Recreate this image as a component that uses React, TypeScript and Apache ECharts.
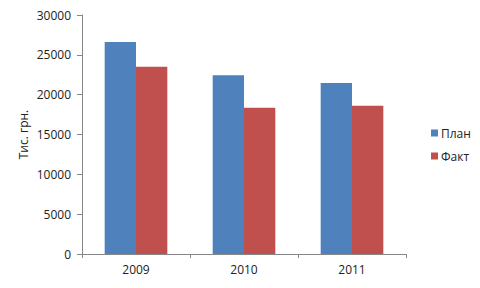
import React, { useEffect, useRef } from "react";
import * as echarts from "echarts";

const categories = ["2009", "2010", "2011"];
const planValues = [26600, 22450, 21450];
const factValues = [23500, 18350, 18600];
const seriesNames = ["План", "Факт"];
const yAxisName = "Тис. грн.";

export default function App() {
  const ref = useRef<HTMLDivElement>(null);
  useEffect(() => {
    const chart = echarts.init(ref.current!, null, { renderer: "svg" });
    const font = "'Open Sans', 'Liberation Sans', sans-serif";
    chart.setOption({
      animation: false,
      backgroundColor: "#ffffff",
      textStyle: { fontFamily: font },
      grid: { left: 82, right: 74, top: 15, bottom: 34, containLabel: false },
      legend: {
        orient: "vertical",
        left: 426,
        top: 122,
        itemWidth: 7,
        itemHeight: 7,
        itemGap: 11,
        icon: "rect",
        textStyle: { fontSize: 12, color: "#222", fontFamily: font, padding: [0, 0, 0, -2] },
        data: seriesNames,
      },
      xAxis: {
        type: "category",
        data: categories,
        axisLine: { lineStyle: { color: "#868686" } },
        axisTick: { show: true, alignWithLabel: false, length: 4, lineStyle: { color: "#868686" } },
        axisLabel: { color: "#222", fontSize: 12, margin: 9, fontFamily: font },
      },
      yAxis: {
        type: "value",
        min: 0,
        max: 30000,
        interval: 5000,
        name: yAxisName,
        nameLocation: "middle",
        nameGap: 53,
        nameMoveOverlap: false,
        nameTextStyle: { color: "#222", fontSize: 12, fontFamily: font },
        axisLine: { show: true, lineStyle: { color: "#868686" } },
        axisTick: { show: true, length: 5, lineStyle: { color: "#868686" } },
        splitLine: { show: false },
        axisLabel: {
          color: "#222",
          fontSize: 12,
          margin: 11,
          fontFamily: font,
          formatter: (v: number) => String(v),
        },
      },
      series: [
        {
          name: seriesNames[0],
          type: "bar",
          data: planValues,
          barGap: "0%",
          barCategoryGap: "42%",
          itemStyle: { color: "#4F81BD" },
        },
        {
          name: seriesNames[1],
          type: "bar",
          data: factValues,
          barGap: "0%",
          barCategoryGap: "42%",
          itemStyle: { color: "#C0504D" },
        },
      ],
    });
    return () => chart.dispose();
  }, []);
  return <div ref={ref} style={{ width: 480, height: 288, position: "absolute", left: 0, top: 0 }} />;
}
